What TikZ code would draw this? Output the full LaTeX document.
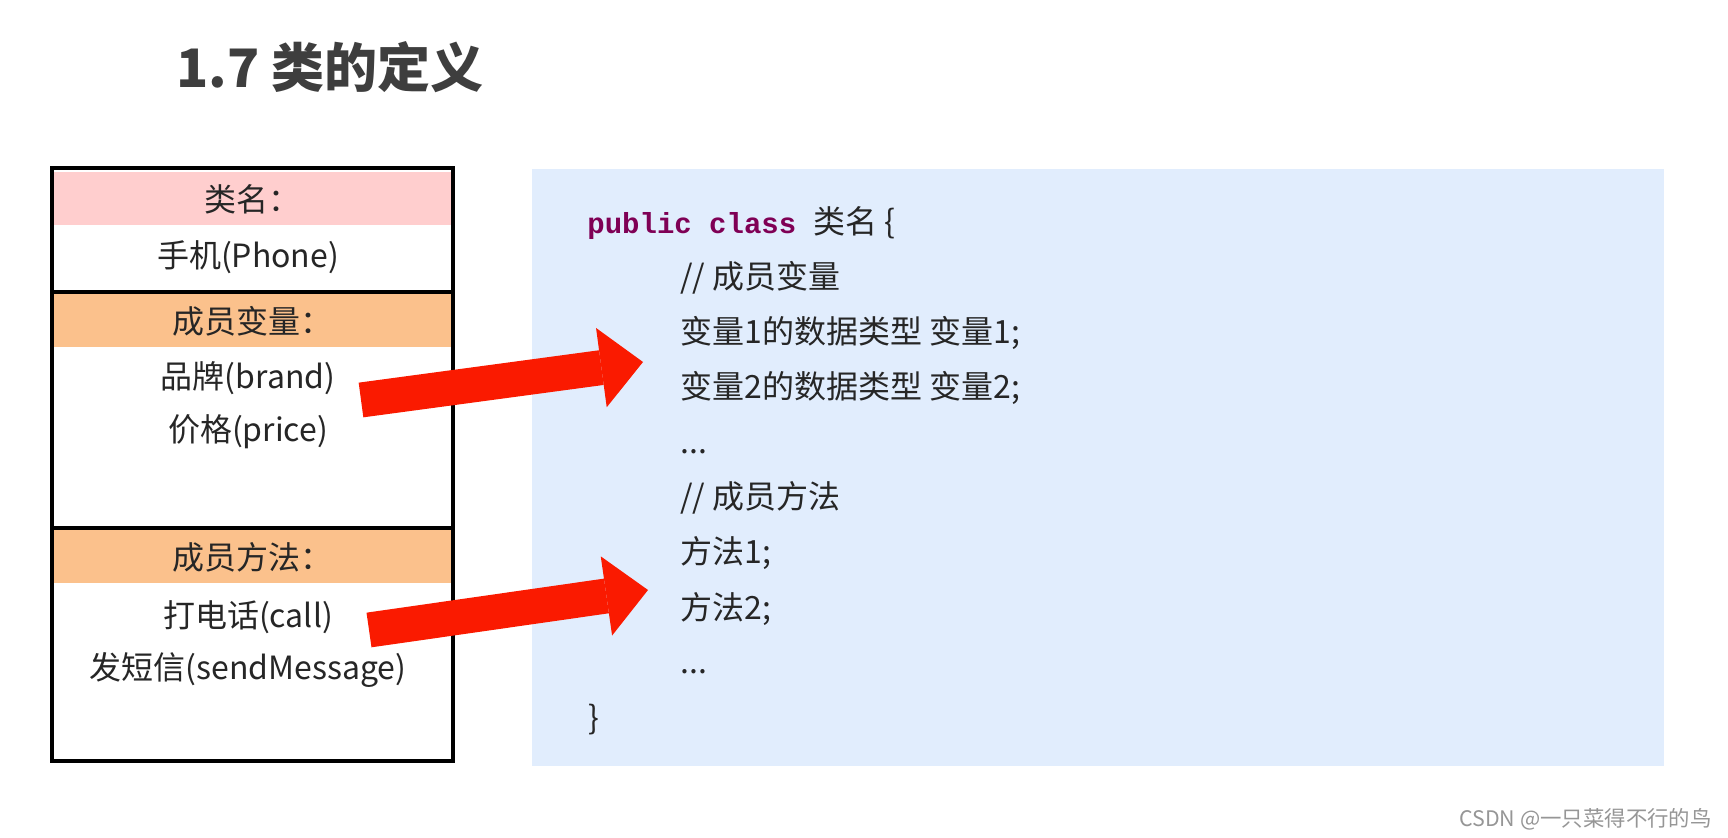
\documentclass[tikz,border=0pt]{standalone}
\usepackage{fontspec}
\setmainfont{Noto Sans CJK SC}
\newfontfamily\codefont{Liberation Mono}
\usetikzlibrary{arrows.meta,positioning}
\definecolor{panelblue}{RGB}{225,237,253}
\definecolor{pinkhead}{RGB}{255,206,206}
\definecolor{orangehead}{RGB}{251,193,140}
\definecolor{arrowred}{RGB}{250,26,0}
\definecolor{titlegray}{RGB}{62,62,62}
\definecolor{textgray}{RGB}{38,38,38}
\definecolor{kwpurple}{RGB}{127,0,85}
\definecolor{markgray}{RGB}{150,150,150}

\begin{document}
\begin{tikzpicture}[x=0.5pt, y=-0.5pt,
    txt/.style={font=\fontsize{16pt}{18pt}\selectfont, text=textgray, inner sep=0pt},
    head/.style={txt, minimum width=198.5pt, minimum height=26.5pt},
    code/.style={txt, anchor=base west},
    bigarrow/.style={line width=17.5pt, arrowred,
        -{Triangle[length=21pt, width=40pt, line width=0pt]}}
]
    \useasboundingbox (0,0) rectangle (1728,838);
    \fill[white] (0,0) rectangle (1728,838);

    % Title
    \node[anchor=west, font=\fontsize{26.5pt}{30pt}\selectfont\bfseries, text=titlegray, inner sep=0pt]
        (title) at (176,67) {1.7 类的定义};

    % Class card
    \node[head, fill=pinkhead] (hname) at (252.5,199) {类名：};
    \node[txt] (phone) at (248,257) {手机(Phone)};
    \node[head, fill=orangehead] (hvar) at (252.5,321) {成员变量：};
    \node[txt] (brand) at (248,378) {品牌(brand)};
    \node[txt] (price) at (248,432) {价格(price)};
    \node[head, fill=orangehead] (hmeth) at (252.5,557) {成员方法：};
    \node[txt] (call) at (248,617) {打电话(call)};
    \node[txt] (sms) at (248,670) {发短信(sendMessage)};
    \draw[line width=2pt] (52,168) rectangle (453,761);
    \draw[line width=2pt] (52,292) -- (453,292);
    \draw[line width=2pt] (52,528) -- (453,528);

    % Code panel
    \fill[panelblue] (532,169) rectangle (1664,766);
    \node[code] (l1) at (587,234) {{\codefont\bfseries\fontsize{14.5pt}{16pt}\selectfont\color{kwpurple}public class }类名 \{};
    \node[code] (l2) at (680,289) {// 成员变量};
    \node[code] (l3) at (680,344) {变量1的数据类型 变量1;};
    \node[code] (l4) at (680,399) {变量2的数据类型 变量2;};
    \node[code] (l5) at (680,454) {...};
    \node[code] (l6) at (680,509) {// 成员方法};
    \node[code] (l7) at (680,564) {方法1;};
    \node[code] (l8) at (680,619) {方法2;};
    \node[code] (l9) at (680,674) {...};
    \node[code] (l10) at (588,729) {\}};

    % Arrows
    \coordinate (va) at (361,400);
    \coordinate (vb) at (643,362);
    \coordinate (ma) at (369,630);
    \coordinate (mb) at (648,590);
    \draw[bigarrow] (va) -- (vb);
    \draw[bigarrow] (ma) -- (mb);

    \node[anchor=east, font=\fontsize{10.7pt}{12pt}\selectfont, text=markgray, inner sep=0pt]
        (mark) at (1712,819) {CSDN @一只菜得不行的鸟};
\end{tikzpicture}
\end{document}
